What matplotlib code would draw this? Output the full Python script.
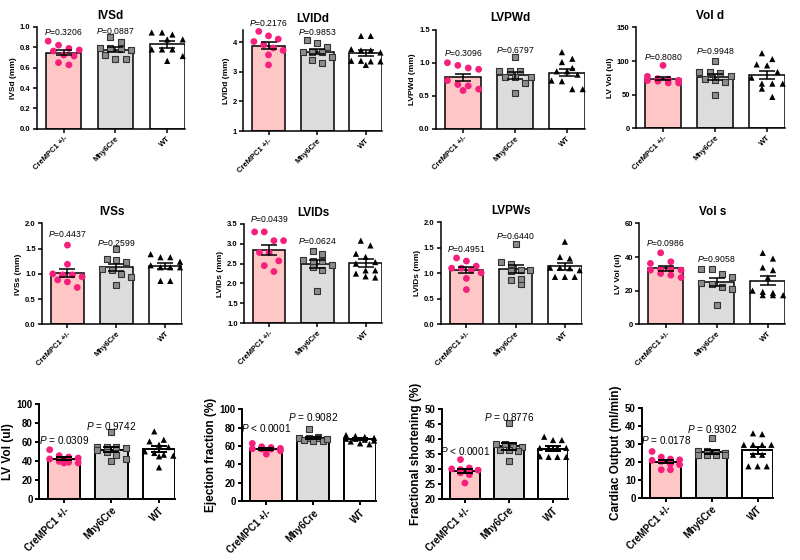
import matplotlib
matplotlib.use("Agg")
import matplotlib.pyplot as plt
import numpy as np

plt.rcParams["font.family"] = ["Liberation Sans", "DejaVu Sans"]
plt.rcParams["mathtext.fontset"] = "custom"
plt.rcParams["mathtext.it"] = "Liberation Sans:italic"
plt.rcParams["mathtext.rm"] = "Liberation Sans"

groups = ["CreMPC1 +/-", "Mhy6Cre", "WT"]

# individual animals: [CreMPC1 +/-, Mhy6Cre, WT]
ivsd = [[0.763, 0.789, 0.821, 0.860, 0.773, 0.714, 0.724, 0.627, 0.649],
        [0.90, 0.85, 0.79, 0.78, 0.79, 0.77, 0.72, 0.68, 0.685],
        [0.945, 0.945, 0.925, 0.877, 0.877, 0.779, 0.779, 0.779, 0.714, 0.666]]
lvidd = [[4.36, 4.21, 4.10, 4.02, 3.80, 3.72, 3.91, 3.57, 3.23],
         [3.97, 4.06, 3.85, 3.68, 3.68, 3.65, 3.51, 3.31, 3.38],
         [4.21, 4.21, 3.72, 3.72, 3.76, 3.65, 3.37, 3.35, 3.35, 3.37, 3.23]]
lvpwd = [[1.00, 0.90, 0.92, 0.96, 0.73, 0.65, 0.67, 0.58, 0.60],
         [1.08, 0.87, 0.88, 0.88, 0.785, 0.785, 0.785, 0.69, 0.54],
         [1.16, 1.06, 1.01, 0.92, 0.87, 0.82, 0.73, 0.72, 0.60, 0.60, 0.87]]
vold = [[93.5, 73.8, 72.8, 77.2, 71.3, 67.4, 67.4, 71.0, 70.0],
        [100.8, 82.1, 78.0, 83.6, 83.6, 71.3, 68.9, 72.8, 50.2],
        [111.7, 103.0, 93.5, 95.0, 83.6, 66.4, 66.4, 75.3, 66.4, 46.7, 59.0]]
ivss = [[1.57, 1.19, 1.00, 0.94, 0.98, 0.98, 0.88, 0.84, 0.73],
        [1.49, 1.23, 1.27, 1.29, 1.09, 1.08, 1.00, 0.93, 0.77],
        [1.39, 1.33, 1.33, 1.24, 1.13, 1.13, 1.13, 0.86, 0.86, 1.17]]
lvids = [[3.30, 3.30, 3.08, 3.08, 2.78, 2.78, 2.57, 2.30, 2.45],
         [2.83, 2.75, 2.60, 2.56, 2.56, 2.47, 2.41, 2.35, 1.82],
         [3.08, 2.96, 2.75, 2.67, 2.54, 2.50, 2.33, 2.33, 2.15, 2.18, 2.25]]
lvpws = [[1.30, 1.24, 1.14, 1.10, 1.10, 1.06, 1.01, 0.90, 0.68],
         [1.57, 1.23, 1.19, 1.06, 1.06, 1.05, 0.79, 0.89, 0.87],
         [1.62, 1.29, 1.32, 1.10, 1.11, 1.11, 1.06, 0.93, 0.93, 0.93]]
vols = [[42.5, 37.2, 36.2, 29.2, 32.6, 32.2, 32.6, 27.8, 32.2, 30.2],
        [32.6, 32.6, 30.2, 28.2, 24.6, 22.3, 24.2, 11.3, 21.0],
        [42.5, 39.1, 33.8, 32.2, 27.8, 17.3, 17.3, 17.3, 18.7, 19.3, 20.0]]
lvvol = [[51.7, 45.5, 44.0, 43.0, 38.5, 39.5, 37.8, 37.8, 42.0],
         [69.9, 54.5, 54.5, 54.2, 49.0, 51.0, 42.0, 39.5, 46.5, 53.5],
         [71.0, 62.2, 57.0, 60.5, 54.5, 46.5, 44.8, 48.3, 45.5, 33.2, 50.0]]
ef = [[59.3, 62.9, 54.9, 56.7, 51.3, 57.1, 56.7, 57.5, 58.5],
      [78.2, 70.2, 68.4, 68.4, 68.4, 65.8, 66.0, 68.0, 66.5],
      [72.0, 70.0, 71.0, 68.0, 68.0, 67.0, 66.0, 65.0, 63.0, 62.0, 69.0]]
fs = [[33.1, 30.3, 29.8, 29.8, 29.6, 28.7, 28.1, 25.3, 30.0],
      [45.3, 38.4, 37.3, 38.4, 37.3, 36.4, 35.9, 36.4, 32.6],
      [40.7, 39.6, 39.6, 37.0, 37.0, 37.0, 37.0, 34.0, 34.0, 34.2, 34.0]]
co = [[25.7, 22.6, 21.5, 21.1, 20.8, 18.8, 18.4, 15.6, 15.6, 20.2],
      [33.1, 25.7, 25.7, 25.2, 24.8, 23.9, 23.9, 23.9, 23.5],
      [35.8, 35.3, 29.4, 29.4, 29.4, 29.4, 23.9, 23.9, 17.5, 17.5, 17.5]]

panel_data = [ivsd, lvidd, lvpwd, vold, ivss, lvids, lvpws, vols, lvvol, ef, fs, co]
titles = ["IVSd", "LVIDd", "LVPWd", "Vol d", "IVSs", "LVIDs", "LVPWs", "Vol s",
          "", "", "", ""]
ylabels = ["IVSd (mm)", "LVIDd (mm)", "LVPWd (mm)", "LV Vol (ul)",
           "IVSs (mm)", "LVIDs (mm)", "LVIDs (mm)", "LV Vol (ul)",
           "LV Vol (ul)", "Ejection fraction (%)", "Fractional shortening (%)",
           "Cardiac Output (ml/min)"]
pvalues = [["=0.3206", "=0.0887"], ["=0.2176", "=0.9853"], ["=0.3096", "=0.6797"],
           ["=0.8080", "=0.9948"], ["=0.4437", "=0.2599"], ["=0.0439", "=0.0624"],
           ["=0.4951", "=0.6440"], ["=0.0986", "=0.9058"], [" = 0.0309", " = 0.9742"],
           [" < 0.0001", " = 0.9082"], [" < 0.0001", " = 0.8776"], [" = 0.0178", " = 0.9302"]]
yticks = [np.arange(0, 1.01, 0.2), [1, 2, 3, 4], [0, 0.5, 1.0, 1.5], [0, 50, 100, 150],
          [0, 0.5, 1.0, 1.5, 2.0], [1.0, 1.5, 2.0, 2.5, 3.0, 3.5], [0, 0.5, 1.0, 1.5, 2.0],
          [0, 20, 40, 60], np.arange(0, 101, 20), np.arange(0, 101, 20),
          np.arange(20, 51, 5), np.arange(0, 51, 10)]
ylims = [(0, 1.0), (1, 4.4), (0, 1.5), (0, 150), (0, 2.0), (1.0, 3.5), (0, 2.0),
         (0, 60), (0, 100), (0, 100), (20, 50), (0, 50)]
tickfmt = ["%.1f", "%d", "%.1f", "%d", "%.1f", "%.1f", "%.1f", "%d", "%d", "%d", "%d", "%d"]

# layout: axes rectangles (figure fraction) and heights of the P labels
rects = [[0.046, 0.770, 0.185, 0.182], [0.304, 0.766, 0.174, 0.180],
         [0.545, 0.770, 0.186, 0.177], [0.795, 0.771, 0.186, 0.180],
         [0.0525, 0.421, 0.175, 0.180], [0.305, 0.423, 0.1725, 0.177],
         [0.551, 0.421, 0.176, 0.182], [0.799, 0.421, 0.1825, 0.180],
         [0.049, 0.109, 0.170, 0.170], [0.3025, 0.105, 0.1675, 0.164],
         [0.5525, 0.109, 0.1575, 0.161], [0.8025, 0.111, 0.164, 0.161]]
p_y = [[0.945, 0.958], [4.64, 4.33], [1.15, 1.20], [106.7, 115.6],
       [1.80, 1.62], [3.63, 3.06], [1.47, 1.74], [48.1, 38.7],
       [61.5, 76.2], [80, 92], [35.9, 47.3], [31.8, 38.2]]

fills = ["#ffc6c6", "#dcdcdc", "#ffffff"]
XLIM = (-0.52, 2.34)
BW = 0.68


def swarm(vals, h_px, ylim, col, thr, maxrow=4):
    # rows of points with close values, spread evenly about the bar centre
    y_px = (np.asarray(vals) - ylim[0]) / (ylim[1] - ylim[0]) * h_px
    order = list(np.argsort(-y_px))
    offs = np.zeros(len(vals))
    while order:
        row = [order.pop(0)]
        while order and len(row) < maxrow and y_px[row[0]] - y_px[order[0]] < thr:
            row.append(order.pop(0))
        k = len(row)
        for j, i in enumerate(row):
            offs[i] = (j - (k - 1) / 2) * col
    return offs


fig = plt.figure(figsize=(8, 5.6), dpi=100)

for n in range(12):
    ax = fig.add_axes(rects[n])
    big = n >= 8
    data = panel_data[n]
    y0 = ylims[n][0]
    means = [np.mean(g) for g in data]
    sems = [np.std(g, ddof=1) / np.sqrt(len(g)) for g in data]
    x = np.arange(3)
    lw = 1.4 if big else 1.1
    ax.bar(x, [m - y0 for m in means], bottom=y0, width=BW, color=fills,
           edgecolor="black", linewidth=lw, zorder=1)

    h_px = rects[n][3] * 560
    for g in range(3):
        xs = g + swarm(data[g], h_px, ylims[n], 0.2, 9)
        if g == 0:
            ax.scatter(xs, data[g], s=24, color="#f5207c", edgecolor="none",
                       zorder=3, clip_on=False)
        elif g == 1:
            ax.scatter(xs, data[g], s=15, marker="s", color="#8c8c8c",
                       edgecolor="#333333", linewidth=0.8, zorder=3, clip_on=False)
        else:
            ax.scatter(xs, data[g], s=20, marker="^", color="black",
                       edgecolor="none", zorder=3, clip_on=False)

    ax.errorbar(x, means, yerr=sems, fmt="none", ecolor="black", elinewidth=lw,
                capsize=6, capthick=lw, zorder=4)

    ax.set_xlim(XLIM)
    ax.set_ylim(ylims[n])
    ax.set_yticks(yticks[n])
    ax.set_yticklabels([tickfmt[n] % t for t in yticks[n]])
    ax.set_xticks(x)
    ax.set_xticklabels(groups, rotation=45, ha="right", rotation_mode="anchor")
    for s in ["top", "right"]:
        ax.spines[s].set_visible(False)
    for s in ["left", "bottom"]:
        ax.spines[s].set_linewidth(lw)
    ax.tick_params(direction="out", length=3, width=lw, pad=1.5,
                   labelsize=7 if big else 5.5)
    for lab in ax.get_xticklabels() + ax.get_yticklabels():
        lab.set_fontweight("bold")
    ax.set_ylabel(ylabels[n], fontsize=8.5 if big else 6, fontweight="bold",
                  labelpad=2)
    if titles[n]:
        ax.set_title(titles[n], fontsize=8.5, fontweight="bold", pad=6)
    for g in range(2):
        ax.text(g, p_y[n][g], r"$\mathit{P}$" + pvalues[n][g], ha="center",
                va="center", fontsize=7.2 if big else 6.2, clip_on=False)

fig.savefig("out.png", dpi=100)
